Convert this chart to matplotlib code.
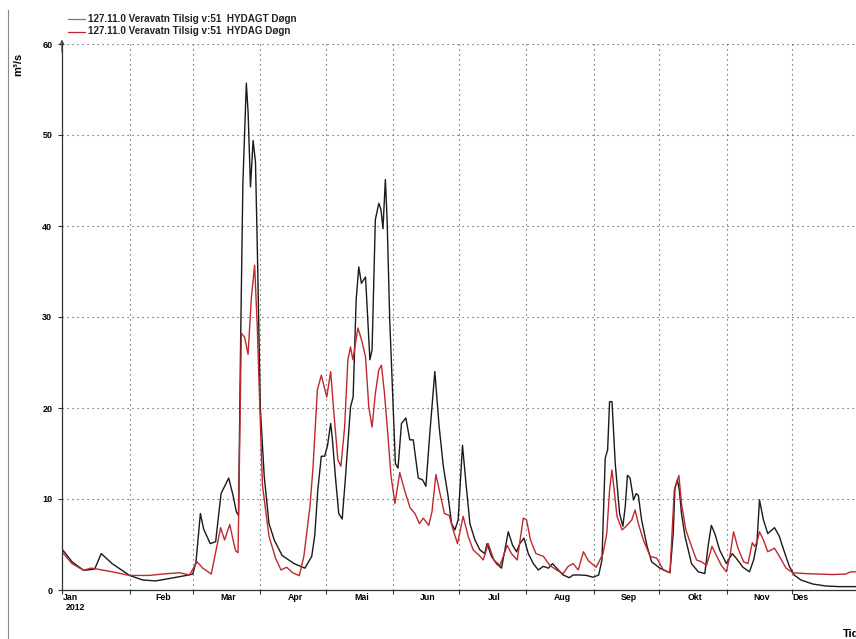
import numpy as np
import matplotlib
matplotlib.use('Agg')
import matplotlib.pyplot as plt
from matplotlib.lines import Line2D
from matplotlib.transforms import blended_transform_factory

plt.rcParams['font.family'] = ['Liberation Sans', 'DejaVu Sans']

YEAR_START = np.datetime64('2012-01-01')
month_labels = ['Jan', 'Feb', 'Mar', 'Apr', 'Mai', 'Jun', 'Jul', 'Aug', 'Sep', 'Okt', 'Nov', 'Des']
year_label = '2012'
y_ticks = [0, 10, 20, 30, 40, 50, 60]
series_names = ['127.11.0 Veravatn Tilsig v:51  HYDAGT Døgn',
                '127.11.0 Veravatn Tilsig v:51  HYDAG Døgn']
y_label = 'm³/s'
x_label = 'Tid'

# HYDAGT (black) : day of year (0 = 1 Jan 2012) and m3/s
hydagt_day = [0, 4.6, 10, 15, 18, 23, 31, 37, 43, 49, 57, 60, 61.5, 63.5, 65, 68, 70.5, 73, 76.5, 78.5,
              80, 81, 82, 83, 84.6, 85.4, 86.5, 87.7, 88.8, 89.7, 91, 92.8, 95, 97.4, 101, 106.5, 111.5, 114.6,
              116, 117.4, 119, 120.5, 121.8, 123.3, 124, 125.6, 127, 128.6, 130, 132.4, 133.6, 135, 136.2,
              137.4, 139.3, 141.3, 142.3, 143.8, 145.4, 146.4, 147.3, 148.4, 149.2, 150.4, 152, 153, 154.2,
              155.8, 157.8, 159.6, 161.2, 163.5, 165.5, 167, 168.8, 171.1, 173.1, 175, 177.2, 178.8, 180.3,
              181.8, 183.8, 185.4, 187.2, 189.5, 191.8, 194, 195.1, 197.1, 199.4, 201.7, 204.8, 206.8, 208.6,
              210.1, 212, 214, 216.3, 218.6, 220.9, 223.2, 225.1, 227, 230, 232.8, 234.6, 237.7, 240.7, 243.8,
              246.3, 247.8, 249.3, 250.4, 251.3, 252.4, 253.9, 255.9, 257.4, 258.5, 259.5, 260.7, 262.3,
              263.5, 264.5, 266, 268.4, 270.6, 274.4, 279, 280.5, 281.3, 282.4, 283.3, 284.3, 285.9, 288.9,
              292, 295, 296.5, 298, 299.6, 301.8, 304.9, 307.6, 309.4, 312.5, 315.5, 317.4, 318.9, 320.1,
              321.9, 323.9, 327, 329.2, 331.5, 333.8, 336, 339.1, 344.5, 350.5, 356.6, 365]
hydagt_val = [4.5, 3.1, 2.15, 2.3, 4.0, 2.9, 1.6, 1.1, 1.0, 1.25, 1.6, 1.75, 3.1, 8.4, 6.7, 5.1, 5.3, 10.6, 12.3, 10.4,
              8.6, 8.2, 27.8, 44.6, 55.7, 52.5, 44.3, 49.4, 47.0, 36.8, 20.1, 12.5, 7.3, 5.5, 3.8, 2.9, 2.4, 3.7,
              6.0, 11.0, 14.7, 14.7, 15.8, 18.3, 16.8, 12.1, 8.4, 7.8, 12.1, 20.1, 21.2, 31.9, 35.5,
              33.7, 34.4, 25.3, 26.4, 40.7, 42.5, 41.8, 39.7, 45.1, 40.7, 29.7, 19.8, 13.9, 13.4,
              18.3, 18.9, 16.5, 16.5, 12.3, 12.1, 11.4, 17.2, 24.0, 17.9, 13.6, 10.3, 7.3, 6.6,
              7.7, 15.9, 11.7, 7.3, 5.5, 4.4, 4.0, 5.1, 3.7, 2.9, 2.4, 6.4, 4.9, 4.2,
              5.1, 5.7, 4.0, 2.9, 2.2, 2.6, 2.4, 2.9, 2.4, 1.65, 1.35, 1.65, 1.65, 1.6, 1.4,
              1.65, 3.3, 14.5, 15.4, 20.7, 20.7, 13.9, 8.4, 7.0, 9.2, 12.6, 12.3, 9.9,
              10.6, 10.4, 7.7, 4.9, 3.1, 2.4, 1.9, 6.2, 11.2, 12.1, 11.0, 8.4, 5.9, 2.9,
              2.0, 1.8, 4.8, 7.1, 6.2, 4.4, 2.9, 4.0, 3.5, 2.5, 2.0, 3.3, 5.1, 9.9,
              7.7, 6.2, 6.85, 5.9, 4.2, 2.6, 1.65, 1.1, 0.66, 0.44, 0.37, 0.37]

# HYDAG (red)
hydag_day = [0, 4.6, 10, 13, 15, 23, 31, 40, 46, 54, 58.5, 62, 64.6, 68.5, 71, 72.8, 74.6, 77, 78.5, 79.7,
             80.8, 82.3, 83.8, 85.4, 86.9, 88.4, 89.6, 90.6, 92, 95, 98, 100.5, 103.1, 105.8, 108.9, 111, 113.8,
             115.2, 117.2, 119, 121.5, 123.3, 124.8, 126.6, 128, 129.7, 131.2, 132.4, 133.5, 135.8, 137.7,
             139.3, 140.8, 142.3, 143.8, 145.4, 146.6, 148, 149.5, 151, 152.8, 155, 157.3, 159.8, 162, 164,
             165.8, 168.3, 169.8, 171.6, 173.3, 175.5, 177.7, 179.5, 181.5, 184.1, 186.4, 188.7, 191.5,
             193.3, 195.6, 198.2, 201, 204.3, 206.3, 208.9, 211.7, 213.2, 215, 217.5, 220.9, 223.9, 227,
             230, 232.3, 234.6, 236.9, 239.3, 241.6, 245.1, 248.3, 250, 251.3, 252.4, 253.4, 254.7, 257,
             258.9, 261.5, 263, 264.5, 266.8, 269.9, 272.9, 276, 279, 281, 283.1, 284.3, 286.3, 288.9,
             291.2, 293.5, 295.8, 298.3, 300.3, 302.6, 304.9, 306.7, 308.2, 310.2, 312.8, 314.8, 316.8,
             317.8, 319, 320.1, 321.9, 323.9, 327, 329.2, 332.3, 335.3, 341.4, 347.5, 353.6, 359.7, 362, 365]
hydag_val = [4.2, 2.9, 2.15, 2.4, 2.35, 2.0, 1.6, 1.6, 1.75, 1.9, 1.65, 3.1, 2.4, 1.75, 4.7, 6.85, 5.5, 7.2, 5.5, 4.3,
             4.1, 28.2, 27.8, 25.9, 32.1, 35.7, 29.0, 21.5, 11.5, 5.9, 3.5, 2.2, 2.5, 1.9, 1.57, 3.7, 9.2,
             13.5, 22.0, 23.6, 21.2, 24.0, 19.4, 14.3, 13.6, 17.9, 25.3, 26.7, 25.3, 28.8, 27.3,
             25.6, 20.1, 17.9, 21.6, 24.2, 24.7, 21.6, 17.2, 12.5, 9.5, 12.9, 10.9, 9.0, 8.4, 7.3,
             7.9, 7.1, 8.6, 12.7, 10.8, 8.4, 8.2, 6.6, 5.1, 8.1, 5.9, 4.4, 3.8,
             3.3, 5.1, 3.3, 2.7, 4.9, 4.0, 3.3, 7.9, 7.7, 5.5, 4.0, 3.7, 2.7, 2.2,
             1.8, 2.6, 2.9, 2.2, 4.2, 3.2, 2.5, 4.0, 6.2, 11.0, 13.2, 11.0, 8.1, 6.6,
             7.0, 7.7, 8.8, 7.3, 5.5, 3.7, 3.5, 2.2, 1.9, 11.0, 12.6, 9.5, 6.6, 4.8,
             3.3, 3.1, 2.7, 4.8, 3.8, 2.7, 2.0, 4.0, 6.4, 4.6, 3.1, 2.9, 5.2,
             4.8, 5.3, 6.4, 5.5, 4.2, 4.6, 3.7, 2.4, 1.9, 1.8, 1.75, 1.7, 1.75, 2.0, 2.0]

W, H = 856, 639
fig = plt.figure(figsize=(W / 100, H / 100), dpi=100)
px_per_day = 2.179
ax = fig.add_axes([62 / W, 49 / H, 366 * px_per_day / W, 546 / H])

month_start = (np.arange('2012-01', '2013-01', dtype='datetime64[M]').astype('datetime64[D]')
               - YEAR_START).astype(int)
n_days = int((np.datetime64('2013-01-01') - YEAR_START).astype(int))

ax.plot(hydagt_day, hydagt_val, color='#1a1a1a', lw=1.0, zorder=3)
ax.plot(hydag_day, hydag_val, color='#c0282d', lw=1.0, zorder=4)

ax.set_xlim(0, n_days)
ax.set_ylim(0, 60)

grid_kw = dict(color='#444444', lw=0.8, linestyle=(0, (1, 3.5)), zorder=1)
for d in month_start[1:]:
    ax.axvline(d, **grid_kw)
for yv in y_ticks[1:]:
    ax.axhline(yv, **grid_kw)

ax.set_xticks(month_start)
ax.set_xticklabels([])
ax.tick_params(axis='x', length=3, width=0.8, color='#333333')
ax.set_yticks(y_ticks)
ax.set_yticklabels([str(v) for v in y_ticks], fontsize=6.5, fontweight='bold')
ax.tick_params(axis='y', length=3, width=0.8, pad=4, color='#333333')

for s in ['top', 'right']:
    ax.spines[s].set_visible(False)
for s in ['left', 'bottom']:
    ax.spines[s].set_color('#333333')
    ax.spines[s].set_linewidth(0.9)
ax.spines['left'].set_zorder(5)

ax.annotate('', xy=(0, 1.008), xycoords='axes fraction', xytext=(0, 0.985),
            arrowprops=dict(arrowstyle='->', lw=0.8, color='#333333', shrinkA=0, shrinkB=0,
                            mutation_scale=7))

tr = blended_transform_factory(ax.transData, fig.transFigure)
lab_y = 1 - 597.5 / H
for i, lab in enumerate(month_labels):
    start = month_start[i]
    end = month_start[i + 1] if i + 1 < len(month_start) else n_days
    if i == 0 or i == len(month_labels) - 1:
        ax.text(start + 0.3, lab_y, lab, transform=tr, ha='left', va='center',
                fontsize=6.3, fontweight='bold')
    else:
        ax.text((start + end) / 2 + 1.0, lab_y, lab, transform=tr, ha='center', va='center',
                fontsize=6.3, fontweight='bold')
ax.text(1.5, 1 - 607.5 / H, year_label, transform=tr, ha='left', va='center',
        fontsize=6.3, fontweight='bold')

# legend
leg_colors = ['#7a7a7a', '#c0282d']
for k, (name, col) in enumerate(zip(series_names, leg_colors)):
    yy = 1 - (18.5 + 13 * k) / H
    fig.add_artist(Line2D([68 / W, 85 / W], [yy, yy], color=col, lw=0.9, transform=fig.transFigure))
    fig.text(88 / W, yy, name, ha='left', va='center', fontsize=7.1, fontweight='bold', color='#222222')

fig.text(18 / W, 1 - 64 / H, y_label, rotation=90, ha='center', va='center', fontsize=8, fontweight='bold')
fig.text(843 / W, 1 - 634 / H, x_label, ha='left', va='center', fontsize=8, fontweight='bold')

fig.add_artist(Line2D([8 / W, 8 / W], [0, 1 - 10 / H], color='#888888', lw=0.8, transform=fig.transFigure))

fig.savefig('out.png', dpi=100)
